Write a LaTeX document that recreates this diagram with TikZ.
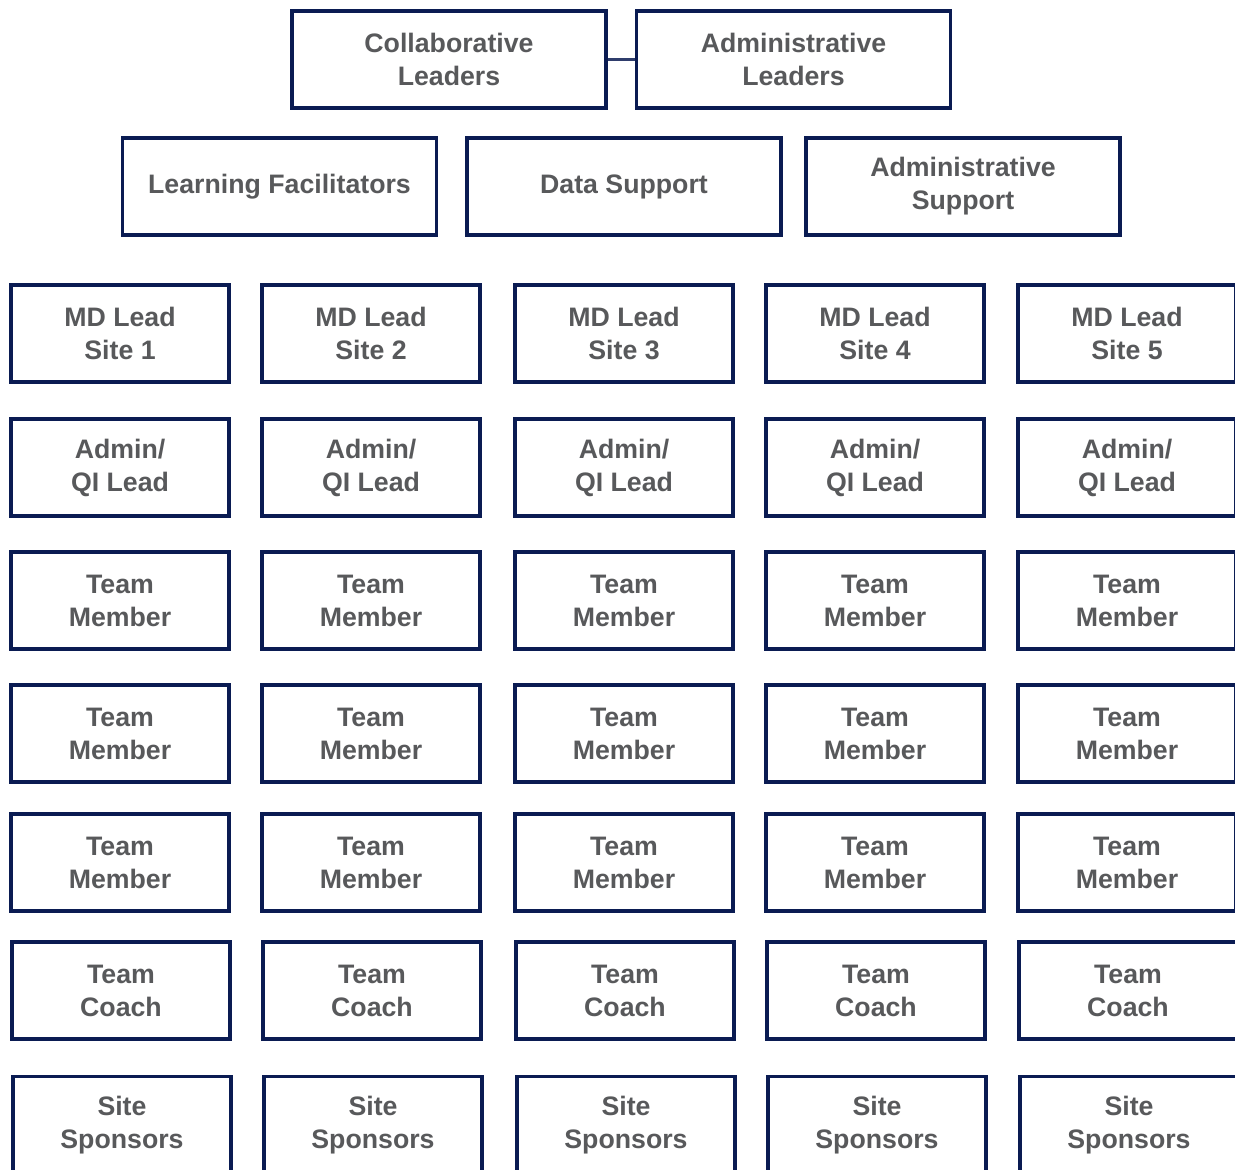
\documentclass[tikz,border=0pt]{standalone}
\usepackage{fontspec}
\setmainfont{Liberation Sans}
\usepackage{xcolor}
\usepackage{tikz}
\usetikzlibrary{positioning}
\definecolor{navy}{RGB}{10,27,82}
\definecolor{txtgray}{RGB}{88,89,91}
\tikzstyle{box} = [rectangle, draw=navy, line width=2pt, fill=white, text=txtgray, align=center, font=\bfseries\fontsize{15.2}{18.8}\selectfont, minimum width=4.36cm, minimum height=1.94cm, inner sep=0pt]
\tikzstyle{widebox} = [box, minimum width=6.28cm]
\tikzstyle{link} = [draw=navy!85, line width=2pt]

\begin{document}
\begin{tikzpicture}[x=0.02cm, y=-0.02cm]
                \clip (0,0) rectangle (1235,1170);
                % leadership
                \node[widebox] (collab) at (449,59.5) {Collaborative\\Leaders};
                \node[widebox] (admin) at (793.5,59.5) {Administrative\\Leaders};
                \draw[link] (collab) -- (admin);
                % support
                \node[widebox] (learn) at (279.5,186.5) {Learning Facilitators};
                \node[widebox] (data) at (624,186.5) {Data Support};
                \node[widebox] (adsup) at (963,186.5) {Administrative\\Support};
                % site teams
                \foreach \i/\x in {1/120, 2/371, 3/624, 4/875, 5/1127} {
                    \node[box] (md\i) at (\x,333.5) {MD Lead\\Site \i};
                    \node[box] (qi\i) at (\x,467.5) {Admin/\\QI Lead};
                    \node[box] (tma\i) at (\x,600.5) {Team\\Member};
                    \node[box] (tmb\i) at (\x,733.5) {Team\\Member};
                    \node[box] (tmc\i) at (\x,862.5) {Team\\Member};
                    \node[box] (coach\i) at (\x+1,990.5) {Team\\Coach};
                    \node[box] (spons\i) at (\x+2,1125) {Site\\Sponsors};
                }
\end{tikzpicture}
\end{document}
